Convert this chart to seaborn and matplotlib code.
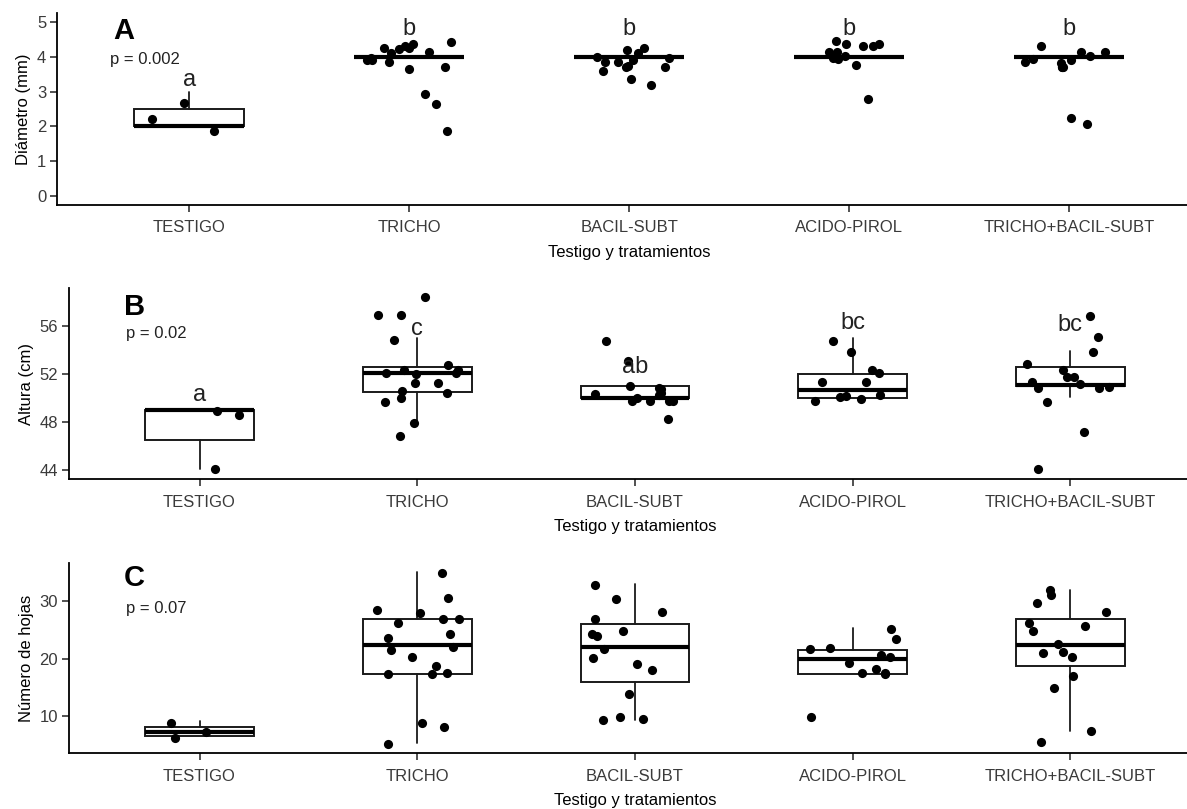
import numpy as np
import pandas as pd
import matplotlib
matplotlib.use("Agg")
import matplotlib.pyplot as plt
import seaborn as sns

# ---------------- data ----------------
categories = ["TESTIGO", "TRICHO", "BACIL-SUBT", "ACIDO-PIROL", "TRICHO+BACIL-SUBT"]

# Panel A: Diámetro (mm)
diam_testigo = [2.20, 1.88, 2.68]
diam_tricho = [4.15, 4.42, 4.38, 4.25, 3.91, 3.86, 3.65, 2.93, 2.63, 4.23, 3.96,
               4.10, 3.71, 4.25, 4.31, 1.87, 3.90]
diam_bacil = [4.10, 3.96, 3.86, 3.91, 3.72, 3.98, 3.36, 3.20, 4.25, 3.72, 3.59,
              3.75, 3.86, 4.20]
diam_acido = [4.13, 4.36, 4.31, 3.96, 3.76, 4.15, 4.03, 4.44, 4.31, 3.94, 4.36, 2.80]
diam_tb = [3.81, 4.15, 4.32, 4.01, 3.72, 3.72, 4.13, 3.91, 3.72, 3.86, 3.93, 2.08, 2.24]
diam_q1 = [2.0, 4.0, 4.0, 4.0, 4.0]
diam_med = [2.0, 4.0, 4.0, 4.0, 4.0]
diam_q3 = [2.5, 4.0, 4.0, 4.0, 4.0]
diam_lo = [2.0, 4.0, 4.0, 4.0, 4.0]
diam_hi = [3.0, 4.0, 4.0, 4.0, 4.0]
diam_letters = ["a", "b", "b", "b", "b"]
diam_letter_y = [3.33, 4.80, 4.80, 4.80, 4.80]

# Panel B: Altura (cm)
alt_testigo = [48.92, 48.58, 44.08]
alt_tricho = [56.92, 56.92, 58.36, 54.83, 52.33, 52.06, 52.70, 51.22, 50.39, 49.69,
              49.97, 47.89, 51.22, 52.00, 52.11, 52.33, 50.61, 46.86]
alt_bacil = [54.75, 53.10, 51.03, 50.80, 50.44, 49.97, 49.78, 50.25, 49.75, 49.75,
             50.72, 49.75, 50.30, 48.22]
alt_acido = [54.75, 53.86, 52.11, 52.33, 51.36, 51.36, 49.75, 50.11, 50.25, 50.20, 49.92]
alt_tb = [56.78, 55.03, 53.86, 52.83, 52.33, 51.78, 51.36, 51.72, 51.14, 50.80,
          50.94, 50.80, 49.64, 47.14, 44.08]
alt_q1 = [46.5, 50.5, 50.0, 50.0, 51.0]
alt_med = [49.0, 52.1, 50.0, 50.65, 51.05]
alt_q3 = [49.0, 52.6, 51.0, 52.0, 52.6]
alt_lo = [44.1, 48.0, 50.0, 50.0, 50.1]
alt_hi = [49.0, 55.0, 51.0, 55.0, 53.9]
alt_letters = ["a", "c", "ab", "bc", "bc"]
alt_letter_y = [50.25, 55.7, 52.6, 56.2, 56.1]

# Panel C: Número de hojas
hoj_testigo = [6.22, 7.15, 8.72]
hoj_tricho = [34.88, 30.63, 28.48, 28.01, 26.91, 26.91, 26.16, 23.65, 24.24, 22.08,
              21.50, 20.34, 18.72, 17.55, 17.27, 17.27, 8.13, 8.72, 5.12]
hoj_bacil = [32.84, 30.35, 28.20, 26.90, 24.30, 24.90, 23.95, 21.70, 20.20, 19.07,
             18.10, 13.80, 9.30, 9.90, 9.50]
hoj_acido = [25.12, 23.37, 21.80, 21.63, 20.64, 20.24, 19.30, 18.20, 17.27, 17.55,
             17.55, 9.88]
hoj_tb = [31.97, 31.10, 29.76, 28.20, 26.16, 25.75, 24.82, 22.55, 21.22, 20.93,
          20.24, 16.98, 14.83, 7.44, 5.41]
hoj_q1 = [6.5, 17.25, 16.0, 17.25, 18.75]
hoj_med = [7.2, 22.3, 22.1, 19.95, 22.3]
hoj_q3 = [8.0, 27.0, 26.1, 21.5, 27.0]
hoj_lo = [6.5, 5.2, 9.3, 17.25, 7.3]
hoj_hi = [9.1, 35.2, 33.1, 25.3, 32.0]

panels = [
    dict(groups=[diam_testigo, diam_tricho, diam_bacil, diam_acido, diam_tb],
         q1=diam_q1, med=diam_med, q3=diam_q3, lo=diam_lo, hi=diam_hi,
         ylabel="Diámetro (mm)", ylim=(-0.25, 5.25), yticks=[0, 1, 2, 3, 4, 5],
         tag="A", tag_y=4.74, ptext="p = 0.002", p_y=3.91,
         letters=diam_letters, letter_y=diam_letter_y,
         rect=(57.4, 13.3, 1201.0, 204.7)),
    dict(groups=[alt_testigo, alt_tricho, alt_bacil, alt_acido, alt_tb],
         q1=alt_q1, med=alt_med, q3=alt_q3, lo=alt_lo, hi=alt_hi,
         ylabel="Altura (cm)", ylim=(43.23, 59.12), yticks=[44, 48, 52, 56],
         tag="B", tag_y=57.6, ptext="p = 0.02", p_y=55.4,
         letters=alt_letters, letter_y=alt_letter_y,
         rect=(68.9, 288.3, 1201.0, 479.3)),
    dict(groups=[hoj_testigo, hoj_tricho, hoj_bacil, hoj_acido, hoj_tb],
         q1=hoj_q1, med=hoj_med, q3=hoj_q3, lo=hoj_lo, hi=hoj_hi,
         ylabel="Número de hojas", ylim=(3.49, 36.74), yticks=[10, 20, 30],
         tag="C", tag_y=34.0, ptext="p = 0.07", p_y=28.8,
         letters=None, letter_y=None,
         rect=(68.9, 562.7, 1201.0, 753.3)),
]

# ---------------- plotting ----------------
sns.set_theme(style="ticks")
plt.rcParams["font.family"] = ["Liberation Sans", "DejaVu Sans"]

W, H = 1187, 809
fig = plt.figure(figsize=(W / 100, H / 100), dpi=100)
np.random.seed(7)

for p in panels:
    l, t, r, b = p["rect"]
    ax = fig.add_axes([l / W, 1 - b / H, (r - l) / W, (b - t) / H])

    stats = [dict(q1=a, med=m, q3=c, whislo=lo, whishi=hi, fliers=[])
             for a, m, c, lo, hi in zip(p["q1"], p["med"], p["q3"], p["lo"], p["hi"])]
    ax.bxp(stats, positions=list(range(len(categories))), widths=0.5,
           showfliers=False, showcaps=False, patch_artist=True, manage_ticks=False,
           boxprops=dict(facecolor="white", edgecolor="#1a1a1a", linewidth=1.4),
           medianprops=dict(color="black", linewidth=3.0, solid_capstyle="butt"),
           whiskerprops=dict(color="#1a1a1a", linewidth=1.3))

    df = pd.DataFrame({
        "grupo": [cat for cat, g in zip(categories, p["groups"]) for _ in g],
        "valor": [v for g in p["groups"] for v in g],
    })
    sns.stripplot(data=df, x="grupo", y="valor", order=categories, jitter=0.2,
                  color="black", size=6.6, linewidth=0, ax=ax, zorder=3)

    ax.set_xlim(-0.6, len(categories) - 0.4)
    ax.set_ylim(*p["ylim"])
    ax.set_yticks(p["yticks"])
    ax.set_xticks(range(len(categories)))
    ax.set_xticklabels(categories)
    ax.set_xlabel("Testigo y tratamientos", fontsize=12, color="black", labelpad=7)
    ax.set_ylabel(p["ylabel"], fontsize=12, color="black", labelpad=4)
    ax.tick_params(axis="x", pad=6)
    ax.tick_params(axis="y", pad=3)
    ax.tick_params(axis="both", labelsize=12, labelcolor="#3a3a3a", color="#333333",
                   length=5, width=1.2)
    for side in ["top", "right"]:
        ax.spines[side].set_visible(False)
    for side in ["left", "bottom"]:
        ax.spines[side].set_color("black")
        ax.spines[side].set_linewidth(1.3)

    ax.text(-0.3, p["tag_y"], p["tag"], fontsize=21, fontweight="bold",
            ha="center", va="center", color="black")
    ax.text(-0.2, p["p_y"], p["ptext"], fontsize=12, ha="center", va="center",
            color="#222222")
    if p["letters"] is not None:
        for i, (s, y) in enumerate(zip(p["letters"], p["letter_y"])):
            ax.text(i, y, s, fontsize=17, ha="center", va="center", color="#222222")

fig.savefig("out.png", dpi=100)
